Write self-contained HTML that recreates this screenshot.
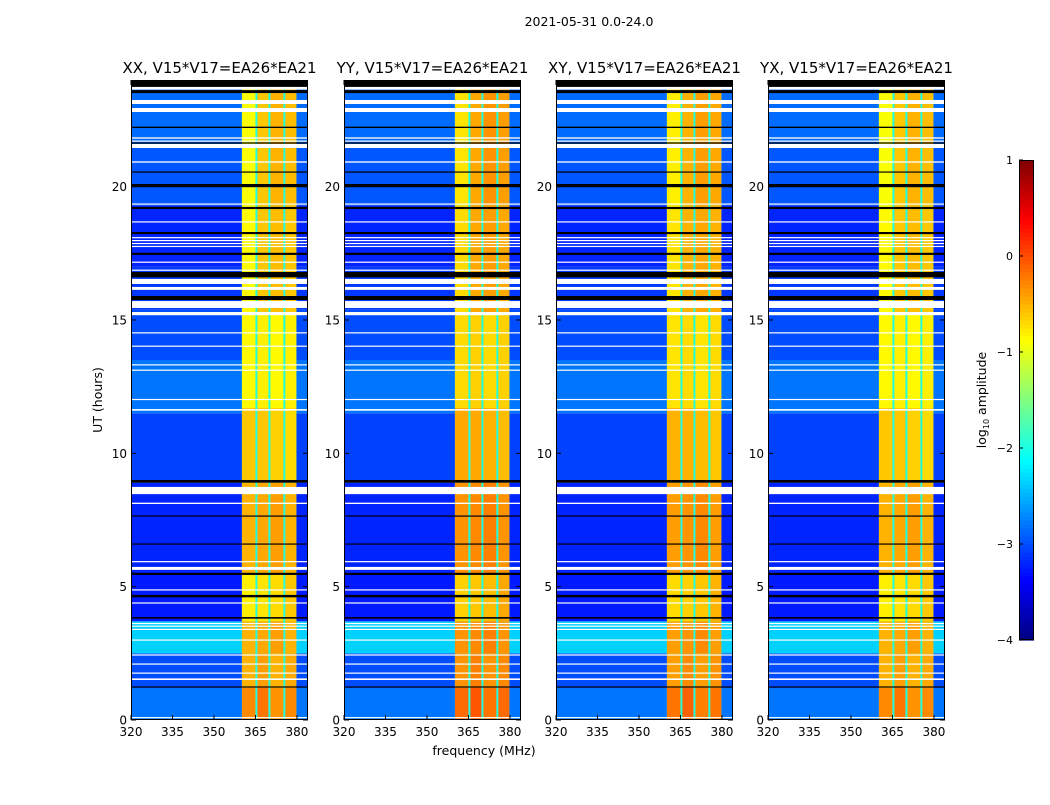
<!DOCTYPE html>
<html><head><meta charset="utf-8">
<style>
body{margin:0;background:#fff;}
svg text{font-family:"DejaVu Sans","Liberation Sans",sans-serif;fill:#000;}
</style></head>
<body>
<svg id="fig" width="1050" height="800" xmlns="http://www.w3.org/2000/svg">
<rect width="1050" height="800" fill="#fff"/>
<text x="589" y="26" font-size="12.5" text-anchor="middle">2021-05-31 0.0-24.0</text>
<text transform="translate(102,400) rotate(-90)" font-size="12.5" text-anchor="middle">UT (hours)</text>
<text x="484" y="755" font-size="12.5" text-anchor="middle">frequency (MHz)</text>
<g id="panels"></g>
<g id="cbar"></g>
</svg>
<script>
const panelTitles=["XX, V15*V17=EA26*EA21","YY, V15*V17=EA26*EA21","XY, V15*V17=EA26*EA21","YX, V15*V17=EA26*EA21"];
const panelBoost=[0,0.15,0.1,0];
const xTicks=[320,335,350,365,380];
const yTicks=[0,5,10,15,20];
// background blocks: start hour, end hour, log10 amplitude
const bgStart=[0,1.2,2.5,3.7,5.5,8.9,11.5,13.5,15.4,17.0,19.3,21.5];
const bgEnd=[1.2,2.5,3.7,5.5,8.9,11.5,13.5,15.4,17.0,19.3,21.5,24];
const bgLevel=[-2.8,-3.0,-2.35,-3.25,-3.2,-3.05,-2.8,-3.0,-3.1,-3.2,-2.95,-2.85];
// RFI sub-bands (MHz)
const bandLo=[360.1,365.7,370.4,375.8];
const bandHi=[365.0,369.7,375.1,379.8];
const gapLevel=-2.0;
// RFI levels per time block per sub-band
const rfiStart=[0,1.2,2.5,3.7,5.5,8.9,11.7,15.3,19.3];
const rfiEnd=[1.2,2.5,3.7,5.5,8.9,11.7,15.3,19.3,24];
const rfiB1=[-0.3,-0.5,-0.5,-0.8,-0.5,-0.6,-0.85,-0.85,-0.9];
const rfiB2=[-0.2,-0.4,-0.45,-0.75,-0.45,-0.6,-0.8,-0.6,-0.6];
const rfiB3=[-0.35,-0.5,-0.4,-0.7,-0.4,-0.65,-0.85,-0.55,-0.5];
const rfiB4=[-0.3,-0.45,-0.5,-0.6,-0.5,-0.7,-0.8,-0.6,-0.55];
// flagged rows: start hour, end hour, kind (1 white, 0 black)
const flagStart=[23.74,23.64,23.51,23.1,22.8,22.2,21.8,21.69,21.62,21.45,20.9,20.53,19.98,19.33,19.16,18.66,18.22,18.07,17.96,17.85,17.74,17.44,17.15,16.85,16.6,16.35,16.13,15.75,15.45,15.18,14.5,14.0,13.3,13.1,12.0,11.6,8.9,8.47,8.1,7.63,6.58,5.92,5.63,5.44,4.86,4.6,4.37,3.8,3.6,3.5,3.38,2.98,2.42,2.08,1.74,1.5,1.22,0.07];
const flagEnd=[24.0,23.74,23.62,23.25,22.95,22.25,21.85,21.73,21.66,21.6,20.95,20.57,20.1,19.37,19.24,18.7,18.3,18.11,18.0,17.89,17.78,17.52,17.19,16.89,16.8,16.54,16.24,15.9,15.71,15.3,14.54,14.04,13.34,13.14,12.04,11.66,9.0,8.74,8.15,7.67,6.62,5.96,5.74,5.52,4.9,4.69,4.41,3.86,3.64,3.54,3.42,3.02,2.46,2.12,1.78,1.56,1.26,0.11];
const flagKind=[0,1,0,1,1,0,1,1,0,1,1,0,0,1,0,1,0,1,1,1,1,0,1,1,0,1,1,0,1,1,1,1,1,1,1,1,0,1,1,0,0,1,1,0,1,0,1,0,1,1,1,1,1,1,1,1,0,1];
const cbTicks=[1,0,-1,-2,-3,-4];

const NS="http://www.w3.org/2000/svg";
const panelLeft=[131,344,556,768], PW=177, TOP=80, BOT=720;
const fMin=320,fMax=384,hMin=0,hMax=24,vMin=-4,vMax=1;
function cl(v){return Math.max(0,Math.min(1,v));}
function jet(v){const t=cl((v-vMin)/(vMax-vMin));
 const r=cl(1.5-Math.abs(4*t-3)),g=cl(1.5-Math.abs(4*t-2)),b=cl(1.5-Math.abs(4*t-1));
 return `rgb(${Math.round(r*255)},${Math.round(g*255)},${Math.round(b*255)})`;}
function mk(tag,at,parent){const e=document.createElementNS(NS,tag);for(const k in at)e.setAttribute(k,at[k]);parent.appendChild(e);return e;}
const panels=document.getElementById('panels');
panelLeft.forEach((L,p)=>{
 const xs=f=>L+(f-fMin)/(fMax-fMin)*PW;
 const ys=h=>BOT-(h-hMin)/(hMax-hMin)*(BOT-TOP);
 const g=mk('g',{},panels);
 
 
 bgStart.forEach((s,i)=>{
  const r=mk('rect',{x:xs(fMin),y:ys(bgEnd[i]),width:xs(fMax)-xs(fMin),height:ys(s)-ys(bgEnd[i]),fill:jet(bgLevel[i])},g);
  
  
 });
 const g0=mk('rect',{x:xs(bandLo[0]),y:TOP,width:xs(bandHi[3])-xs(bandLo[0]),height:BOT-TOP,fill:jet(gapLevel)},g);
 
 
 const bands=[rfiB1,rfiB2,rfiB3,rfiB4];
 rfiStart.forEach((s,i)=>{
  bands.forEach((arr,b)=>{
   const r=mk('rect',{x:xs(bandLo[b]),y:ys(rfiEnd[i]),width:xs(bandHi[b])-xs(bandLo[b]),height:ys(s)-ys(rfiEnd[i]),fill:jet(arr[i]+panelBoost[p])},g);
   
   
  });
 });
 flagStart.forEach((s,i)=>{
  const r=mk('rect',{x:L,y:ys(flagEnd[i]),width:PW,height:Math.max(1.2,ys(s)-ys(flagEnd[i])),fill:flagKind[i]?'#fff':'#000'},g);
  
  
 });
 const fr=mk('rect',{x:L+0.5,y:TOP+0.5,width:PW-1,height:BOT-TOP-1,fill:'none',stroke:'#000','stroke-width':1},g);
 
 
 const t=mk('text',{x:L+PW/2,y:73,'font-size':15,'text-anchor':'middle'},g);t.textContent=panelTitles[p];
 
 
 xTicks.forEach(v=>{
  const x=xs(v);
  mk('line',{x1:x,x2:x,y1:BOT,y2:BOT-5,stroke:'#000'},g);
  mk('line',{x1:x,x2:x,y1:TOP,y2:TOP+5,stroke:'#000'},g);
  const tt=mk('text',{x:x,y:BOT+16,'font-size':12,'text-anchor':'middle'},g);tt.textContent=v;
  
  
 });
 yTicks.forEach(v=>{
  const y=ys(v);
  mk('line',{x1:L,x2:L+5,y1:y,y2:y,stroke:'#000'},g);
  mk('line',{x1:L+PW,x2:L+PW-5,y1:y,y2:y,stroke:'#000'},g);
  const tt=mk('text',{x:L-4,y:y+4.5,'font-size':12,'text-anchor':'end'},g);tt.textContent=v;
  
  
 });
});
// colorbar
const cb=document.getElementById('cbar');
const CX=1019,CW=15,CT=160,CB=640;
const cys=v=>CB-(v-vMin)/(vMax-vMin)*(CB-CT);
for(let i=0;i<120;i++){
 const v=vMin+(i+0.5)*(vMax-vMin)/120;
 const r=mk('rect',{x:CX,y:cys(vMin+(i+1)*(vMax-vMin)/120),width:CW,height:(CB-CT)/120+0.6,fill:jet(v)},cb);
 
 
}
const cf=mk('rect',{x:CX+0.5,y:CT+0.5,width:CW-1,height:CB-CT-1,fill:'none',stroke:'#000'},cb);


cbTicks.forEach(v=>{
 const y=cys(v);
 mk('line',{x1:CX,x2:CX+4,y1:y,y2:y,stroke:'#000'},cb);
 const t=mk('text',{x:1013,y:y+4,'font-size':11,'text-anchor':'end'},cb);t.textContent=(v<0?'\u2212'+(-v):v);
 
 
});
const cl2=mk('text',{transform:'translate(986,400) rotate(-90)','font-size':12.5,'text-anchor':'middle'},cb);
cl2.innerHTML='log<tspan font-size="8" dy="3">10</tspan><tspan dy="-3"> amplitude</tspan>';


</script>
</body></html>
